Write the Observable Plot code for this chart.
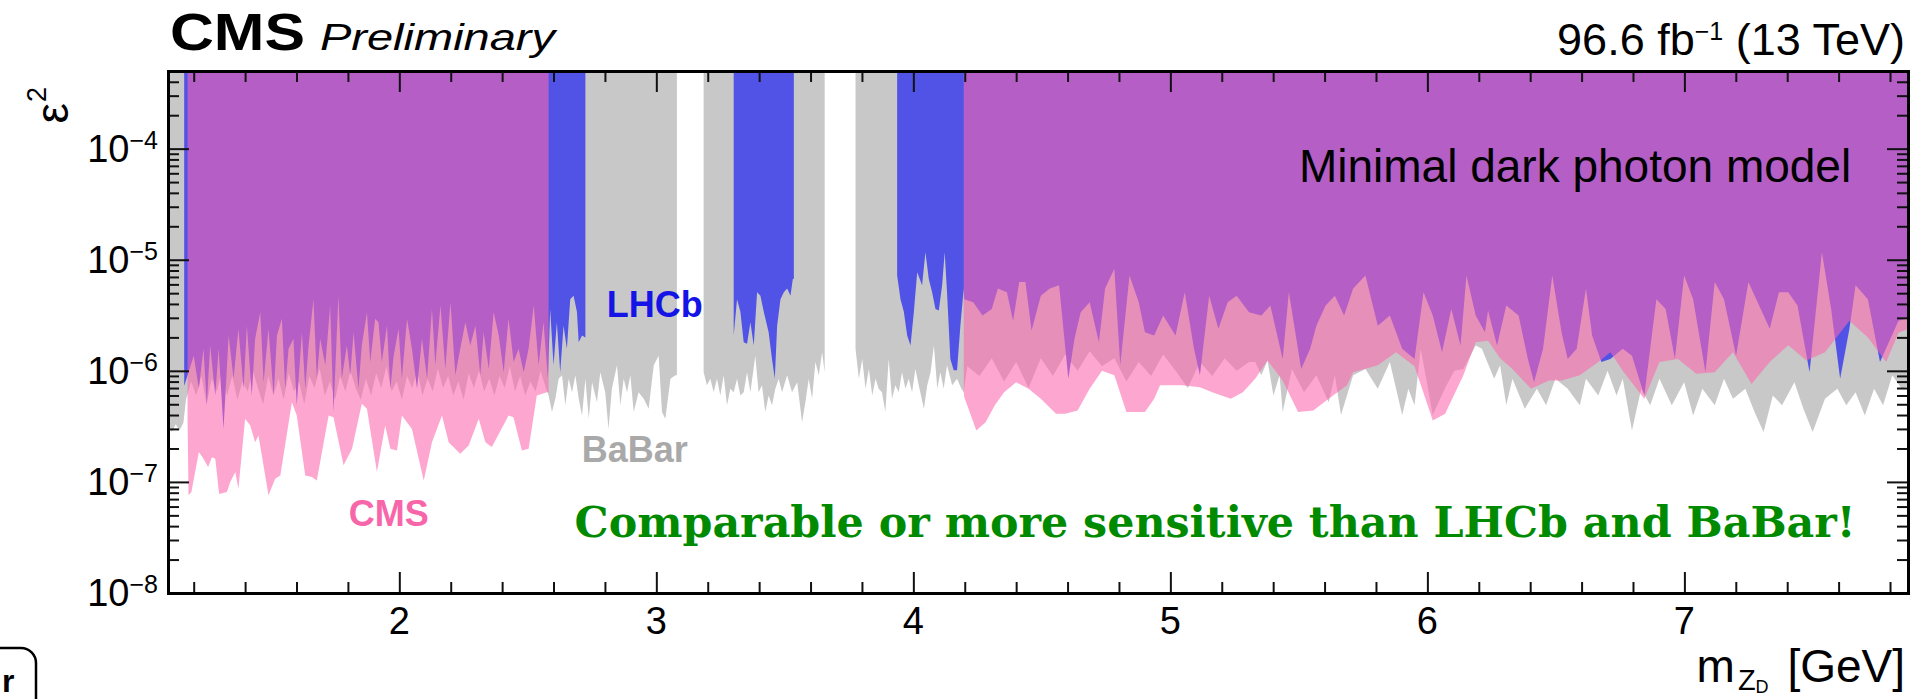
<!DOCTYPE html>
<html><head><meta charset="utf-8">
<script src="https://cdn.jsdelivr.net/npm/d3@7"></script>
<script src="https://cdn.jsdelivr.net/npm/@observablehq/plot@0.6"></script>
<style>html,body{margin:0;padding:0;background:#fff}svg{display:block}</style>
</head><body><div id="chart"></div>
<script>
// ---------- axes ----------
const xDomain = [1.1, 7.87];
const yDomain = [1e-8, 5e-4];
const xMajorTicks = [2, 3, 4, 5, 6, 7];
const xTickLabels = ["2", "3", "4", "5", "6", "7"];
const xMinorTicks = [1.2,1.4,1.6,1.8,2.2,2.4,2.6,2.8,3.2,3.4,3.6,3.8,4.2,4.4,4.6,4.8,5.2,5.4,5.6,5.8,6.2,6.4,6.6,6.8,7.2,7.4,7.6,7.8];
const yMajorTicks = [1e-8, 1e-7, 1e-6, 1e-5, 1e-4];
const yTickExponents = ["\u22128", "\u22127", "\u22126", "\u22125", "\u22124"];
const yMinorTicks = [2e-8,3e-8,4e-8,5e-8,6e-8,7e-8,8e-8,9e-8,2e-7,3e-7,4e-7,5e-7,6e-7,7e-7,8e-7,9e-7,2e-6,3e-6,4e-6,5e-6,6e-6,7e-6,8e-6,9e-6,2e-5,3e-5,4e-5,5e-5,6e-5,7e-5,8e-5,9e-5,2e-4,3e-4,4e-4];

// ---------- BaBar limit (excluded above) ----------
const babarA = [[1.100,3.5e-7],[1.115,2.8e-7],[1.130,3.3e-7],[1.145,2.9e-7],[1.160,3.4e-7],
[1.17,5.5e-7],[1.19,8e-7],[1.21,6e-7],[1.23,9e-7],[1.25,5e-7],[1.27,8.5e-7],[1.29,6.5e-7],[1.31,1.0e-6],[1.33,6e-7],[1.35,9e-7],[1.37,5.5e-7],[1.39,8e-7],[1.41,6.5e-7],[1.43,1.0e-6],[1.45,7e-7],[1.47,5e-7],[1.49,9e-7],[1.51,6e-7],[1.53,8.5e-7],[1.55,5.5e-7],[1.57,9.5e-7],[1.59,6.5e-7],[1.61,8e-7],[1.63,5e-7],[1.65,9e-7],[1.67,7e-7],[1.69,1.05e-6],[1.71,6e-7],[1.73,8e-7],[1.75,5.5e-7],[1.77,9e-7],[1.79,6.5e-7],[1.81,1.0e-6],[1.83,7e-7],[1.85,5.5e-7],[1.87,8.5e-7],[1.89,6e-7],[1.91,9.5e-7],[1.93,7e-7],[1.95,1.1e-6],[1.97,6.5e-7],[1.99,8e-7],[2.01,5.5e-7],[2.03,9e-7],[2.05,7e-7],[2.07,1.0e-6],[2.09,6e-7],[2.11,8.5e-7],[2.13,6.5e-7],[2.15,1.05e-6],[2.17,7e-7],[2.19,9e-7],[2.21,6e-7],[2.23,8e-7],[2.25,5.5e-7],[2.27,9.5e-7],[2.29,7e-7],[2.31,1.0e-6],[2.33,6.5e-7],[2.35,8.5e-7],[2.37,6e-7],[2.39,9e-7],[2.41,7e-7],[2.43,1.1e-6],[2.45,6.5e-7],[2.47,9e-7],[2.49,6e-7],[2.51,8e-7],[2.53,6.5e-7],[2.55,1.0e-6],[2.57,7e-7],
[2.581,6.0e-7],[2.594,4.25e-7],[2.607,5.6e-7],[2.620,8.5e-7],[2.633,9.1e-7],[2.646,4.9e-7],[2.659,8.5e-7],[2.672,6.4e-7],[2.685,9.1e-7],[2.698,5.6e-7],[2.711,3.96e-7],[2.724,8.5e-7],[2.737,3.7e-7],[2.750,7.9e-7],[2.769,5.2e-7],[2.782,9.7e-7],[2.801,6.4e-7],[2.814,3.0e-7],[2.827,6.9e-7],[2.847,1.12e-6],[2.860,4.9e-7],[2.873,8.5e-7],[2.886,6.4e-7],[2.899,9.1e-7],[2.912,4.25e-7],[2.931,6.4e-7],[2.951,5.6e-7],[2.970,4.55e-7],[2.990,1.12e-6],[3.009,1.37e-6],[3.022,4.25e-7],[3.035,3.7e-7],[3.055,8.5e-7],[3.074,9.1e-7],[3.080,9.1e-7]];
const babarB = [[3.184,9.7e-7],[3.197,7.4e-7],[3.210,8.5e-7],[3.223,6.4e-7],[3.236,8.5e-7],[3.249,6.0e-7],[3.262,9.1e-7],[3.275,4.9e-7],[3.288,6.9e-7],[3.301,6.4e-7],[3.314,8.5e-7],[3.327,6.0e-7],[3.340,6.4e-7],[3.353,9.7e-7],[3.366,6.4e-7],[3.385,1.37e-6],[3.398,6.4e-7],[3.411,7.4e-7],[3.424,4.25e-7],[3.437,6.0e-7],[3.450,4.9e-7],[3.463,6.9e-7],[3.476,8.5e-7],[3.489,6.4e-7],[3.509,9.1e-7],[3.528,6.4e-7],[3.548,7.9e-7],[3.567,3.45e-7],[3.580,5.2e-7],[3.593,8.5e-7],[3.606,5.6e-7],[3.619,1.2e-6],[3.632,9.1e-7],[3.645,1.47e-6],[3.655,9.7e-7]];
const babarC = [[3.775,1.58e-6],[3.788,8.5e-7],[3.801,1.28e-6],[3.814,6.9e-7],[3.827,1.04e-6],[3.840,6.0e-7],[3.853,8.5e-7],[3.865,6.9e-7],[3.878,6.4e-7],[3.891,4.25e-7],[3.904,1.28e-6],[3.917,5.6e-7],[3.930,7.4e-7],[3.943,6.4e-7],[3.956,9.7e-7],[3.969,6.9e-7],[3.982,8.5e-7],[3.995,6.4e-7],[4.008,1.04e-6],[4.021,7.4e-7],[4.041,4.55e-7],[4.054,7.4e-7],[4.067,9.7e-7],[4.080,1.69e-6],[4.093,6.9e-7],[4.105,9.7e-7],[4.118,6.9e-7],[4.131,1.12e-6],[4.151,7.4e-7],[4.170,8.5e-7],[4.187,6.9e-7],[4.196,6.4e-7],
[4.21,1.1e-6],[4.257,9e-7],[4.305,1.3e-6],[4.353,8e-7],[4.40,1.2e-6],[4.448,7e-7],[4.496,1.3e-6],[4.543,9e-7],[4.591,1.4e-6],[4.639,1.0e-6],[4.686,1.5e-6],[4.734,1.1e-6],[4.782,1.3e-6],[4.829,8e-7],[4.877,1.2e-6],[4.925,9e-7],[4.972,1.4e-6],[5.02,1.0e-6],[5.068,7e-7],[5.115,1.2e-6],[5.163,9e-7],[5.211,1.3e-6],[5.258,1.0e-6],[5.306,1.2e-6],[5.33,1.2e-6],
[5.354,9.1e-7],[5.378,1.24e-6],[5.401,6.0e-7],[5.425,9.1e-7],[5.437,4.25e-7],[5.473,1.04e-6],[5.52,6.4e-7],[5.568,9.1e-7],[5.616,5.2e-7],[5.640,9.1e-7],[5.664,4.0e-7],[5.711,9.1e-7],[5.759,1.04e-6],[5.807,6.9e-7],[5.854,1.2e-6],[5.902,4.0e-7],[5.926,6.9e-7],[5.95,4.9e-7],[5.974,1.58e-6],[6.021,4.0e-7],[6.069,7e-7],[6.105,1.0e-6],[6.14,1.04e-6],[6.188,1.69e-6],[6.212,1.58e-6],[6.26,8.5e-7],[6.283,1.12e-6],[6.307,4.9e-7],[6.331,8.5e-7],[6.379,4.55e-7],[6.426,6.9e-7],[6.462,4.9e-7],[6.498,8.5e-7],[6.546,6.9e-7],[6.593,4.9e-7],[6.617,8.5e-7],[6.665,6.0e-7],[6.701,1.0e-6],[6.736,6.0e-7],[6.76,8.5e-7],[6.796,2.9e-7],[6.832,6.9e-7],[6.867,4.9e-7],[6.903,8.5e-7],[6.951,4.9e-7],[6.999,7.9e-7],[7.034,3.96e-7],[7.07,6.9e-7],[7.118,4.9e-7],[7.154,8.5e-7],[7.189,5.6e-7],[7.237,6.9e-7],[7.273,4.25e-7],[7.308,2.81e-7],[7.344,6.0e-7],[7.38,4.9e-7],[7.428,7.9e-7],[7.463,4.55e-7],[7.499,2.81e-7],[7.547,5.6e-7],[7.595,6.9e-7],[7.63,4.9e-7],[7.666,6.4e-7],[7.702,3.96e-7],[7.738,6.9e-7],[7.773,4.9e-7],[7.809,9.1e-7],[7.845,6.9e-7],[7.876,7.4e-7]];

// ---------- LHCb limit (excluded above) ----------
const lhcbA = [[1.163,7.3e-7],[1.180,9.7e-7],[1.200,1.37e-6],[1.220,6.9e-7],[1.238,1.58e-6],[1.251,4.9e-7],[1.264,1.69e-6],[1.284,6.0e-7],[1.297,1.58e-6],[1.316,3.0e-7],[1.336,2.08e-6],[1.355,8.5e-7],[1.374,2.39e-6],[1.394,6.9e-7],[1.407,2.55e-6],[1.426,6.0e-7],[1.439,1.94e-6],[1.459,3.37e-6],[1.472,7.9e-7],[1.491,2.39e-6],[1.511,6.0e-7],[1.524,2.08e-6],[1.543,2.94e-6],[1.556,6.9e-7],[1.569,1.58e-6],[1.588,1.94e-6],[1.601,4.9e-7],[1.621,2.23e-6],[1.634,6.9e-7],[1.647,1.69e-6],[1.666,4.4e-6],[1.679,8.5e-7],[1.692,1.94e-6],[1.712,1.12e-6],[1.731,3.87e-6],[1.744,4.25e-7],[1.763,4.75e-6],[1.776,8.5e-7],[1.796,1.69e-6],[1.809,9.1e-7],[1.822,2.23e-6],[1.841,6.9e-7],[1.854,1.69e-6],[1.874,3.37e-6],[1.887,1.2e-6],[1.906,2.94e-6],[1.919,2.74e-6],[1.932,1.2e-6],[1.952,2.55e-6],[1.965,6.9e-7],[1.978,1.37e-6],[1.997,2.39e-6],[2.010,8.5e-7],[2.030,2.94e-6],[2.049,1.58e-6],[2.069,6.9e-7],[2.088,1.94e-6],[2.108,8.5e-7],[2.127,3.6e-6],[2.140,1.12e-6],[2.160,3.87e-6],[2.179,1.04e-6],[2.199,4.15e-6],[2.218,9.1e-7],[2.237,1.58e-6],[2.257,2.74e-6],[2.276,1.69e-6],[2.296,2.55e-6],[2.315,9.1e-7],[2.328,2.23e-6],[2.348,1.04e-6],[2.367,3.37e-6],[2.387,2.08e-6],[2.406,9.7e-7],[2.425,2.94e-6],[2.445,1.2e-6],[2.464,1.58e-6],[2.484,9.7e-7],[2.503,1.58e-6],[2.523,3.87e-6],[2.542,1.12e-6],[2.561,2.74e-6],[2.578,8.5e-7],
[2.587,3.6e-6],[2.600,1.12e-6],[2.613,2.74e-6],[2.626,9.7e-7],[2.639,2.55e-6],[2.652,1.58e-6],[2.665,4.4e-6],[2.678,4.75e-6],[2.691,3.4e-6],[2.698,1.81e-6],[2.711,2.08e-6],[2.724,2.0e-6]];
const lhcbB = [[3.301,2.08e-6],[3.314,4.4e-6],[3.327,3.4e-6],[3.340,1.81e-6],[3.353,1.75e-6],[3.366,2.74e-6],[3.379,1.69e-6],[3.392,5.1e-6],[3.405,4.75e-6],[3.418,3.4e-6],[3.437,2.23e-6],[3.450,1.28e-6],[3.461,8.5e-7],[3.470,2.55e-6],[3.483,4.4e-6],[3.496,5.1e-6],[3.509,5.5e-6],[3.522,4.75e-6],[3.531,6.7e-6],[3.535,6.7e-6]];
const lhcbC = [[3.937,7.2e-6],[3.950,4.4e-6],[3.963,3.4e-6],[3.976,2.08e-6],[3.989,1.69e-6],[4.002,3.4e-6],[4.015,7.7e-6],[4.034,5.9e-6],[4.047,1.17e-5],[4.060,6.7e-6],[4.073,5.1e-6],[4.086,3.6e-6],[4.099,3.5e-6],[4.112,5.9e-6],[4.122,1.17e-5],[4.131,5.1e-6],[4.144,1.28e-6],[4.157,1.01e-6],[4.170,1.01e-6],[4.183,2.55e-6],[4.196,5.5e-6],
[4.198,4.4e-6],[4.233,4.15e-6],[4.269,3.14e-6],[4.305,3.6e-6],[4.329,5.5e-6],[4.364,5.1e-6],[4.388,2.83e-6],[4.412,6.3e-6],[4.436,6.3e-6],[4.460,2.31e-6],[4.496,4.75e-6],[4.531,5.5e-6],[4.567,5.9e-6],[4.603,8.5e-7],[4.627,1.94e-6],[4.651,3.37e-6],[4.686,4.15e-6],[4.722,1.81e-6],[4.746,5.5e-6],[4.782,8.3e-6],[4.805,1.12e-6],[4.841,7.2e-6],[4.877,4.15e-6],[4.901,2.23e-6],[4.937,2.08e-6],[4.972,3.14e-6],[5.020,2.08e-6],[5.056,5.1e-6],[5.092,1.58e-6],[5.115,9.1e-7],[5.151,4.75e-6],[5.187,2.39e-6],[5.223,4.15e-6],[5.258,4.75e-6],[5.306,3.37e-6],[5.354,3.14e-6],[5.389,3.87e-6],[5.437,1.28e-6],[5.461,5.1e-6],[5.509,1.04e-6],[5.544,1.58e-6],[5.568,2.55e-6],[5.604,3.87e-6],[5.640,4.75e-6],[5.676,3.14e-6],[5.711,5.5e-6],[5.759,7.2e-6],[5.807,2.55e-6],[5.854,3.14e-6],[5.902,1.58e-6],[5.950,1.28e-6],[5.985,5.1e-6],[6.021,3.14e-6],[6.057,1.47e-6],[6.093,3.6e-6],[6.129,1.69e-6],[6.152,7.2e-6],[6.188,3.14e-6],[6.224,2.23e-6],[6.236,3.5e-6],[6.271,1.69e-6],[6.307,3.87e-6],[6.355,3.14e-6],[6.391,1.28e-6],[6.415,7.9e-7],[6.450,1.58e-6],[6.486,7.2e-6],[6.522,2.23e-6],[6.546,1.28e-6],[6.581,1.58e-6],[6.617,5.5e-6],[6.641,2.08e-6],[6.677,1.2e-6],[6.712,1.28e-6],[6.760,1.58e-6],[6.796,1.37e-6],[6.844,6.0e-7],[6.891,4.4e-6],[6.927,3.6e-6],[6.963,1.28e-6],[6.999,7.2e-6],[7.034,4.4e-6],[7.082,9.7e-7],[7.118,6.3e-6],[7.154,4.4e-6],[7.201,1.37e-6],[7.249,6.3e-6],[7.285,4.15e-6],[7.332,2.39e-6],[7.368,5.1e-6],[7.404,5.1e-6],[7.440,3.87e-6],[7.487,9.7e-7],[7.535,1.17e-5],[7.571,3.6e-6],[7.606,8.5e-7],[7.642,2.39e-6],[7.666,5.9e-6],[7.714,4.4e-6],[7.761,1.2e-6],[7.833,2.83e-6],[7.876,3.0e-6]];

// ---------- CMS limit (excluded above) ----------
const cmsA = [[1.176,3.7e-7],[1.180,7.6e-8],[1.191,8.1e-8],[1.220,1.86e-7],[1.238,1.62e-7],[1.256,1.36e-7],[1.271,1.67e-7],[1.284,1.62e-7],[1.299,7.8e-8],[1.329,8.1e-8],[1.342,1.0e-7],[1.362,1.23e-7],[1.374,8.7e-8],[1.400,3.7e-7],[1.420,3.22e-7],[1.439,2.28e-7],[1.452,2.62e-7],[1.491,7.6e-8],[1.517,1.07e-7],[1.537,1.14e-7],[1.582,5.2e-7],[1.601,3.96e-7],[1.634,1.14e-7],[1.660,1.11e-7],[1.679,1.03e-7],[1.699,1.86e-7],[1.725,3.96e-7],[1.744,3.83e-7],[1.783,1.41e-7],[1.816,1.99e-7],[1.854,5.05e-7],[1.874,4.55e-7],[1.913,1.23e-7],[1.945,3.22e-7],[1.965,1.99e-7],[1.991,1.92e-7],[2.010,3.96e-7],[2.049,3.0e-7],[2.095,1.03e-7],[2.127,2.28e-7],[2.166,3.96e-7],[2.192,2.28e-7],[2.237,1.79e-7],[2.270,2.13e-7],[2.309,3.7e-7],[2.335,2.28e-7],[2.360,2.06e-7],[2.425,3.96e-7],[2.444,3.83e-7],[2.477,1.92e-7],[2.503,1.99e-7],[2.535,6.0e-7],[2.574,6.4e-7],[2.581,6.4e-7]];
const cmsB = [[4.196,6.4e-7],[4.198,5.8e-7],[4.245,2.9e-7],[4.281,3.45e-7],[4.317,4.9e-7],[4.353,6.4e-7],[4.400,7.9e-7],[4.448,6.9e-7],[4.496,5.6e-7],[4.555,4.1e-7],[4.591,4.1e-7],[4.639,4.4e-7],[4.686,6.9e-7],[4.734,1.0e-6],[4.782,9.1e-7],[4.829,4.25e-7],[4.901,4.25e-7],[4.937,5.6e-7],[4.960,7.4e-7],[5.044,7.4e-7],[5.115,7.1e-7],[5.163,6.4e-7],[5.235,5.6e-7],[5.282,6.4e-7],[5.330,8.5e-7],[5.378,1.24e-6],[5.437,8.2e-7],[5.497,4.25e-7],[5.556,4.4e-7],[5.616,5.6e-7],[5.687,7.4e-7],[5.711,9.7e-7],[5.807,1.12e-6],[5.878,1.47e-6],[5.950,1.1e-6],[6.021,3.57e-7],[6.069,4.1e-7],[6.140,9.1e-7],[6.188,1.81e-6],[6.236,1.87e-6],[6.283,1.3e-6],[6.331,1.04e-6],[6.403,6.9e-7],[6.474,8.2e-7],[6.522,8.2e-7],[6.593,9.1e-7],[6.665,1.2e-6],[6.712,1.47e-6],[6.760,1.0e-6],[6.844,5.6e-7],[6.903,1.2e-6],[6.975,1.28e-6],[7.046,9.4e-7],[7.118,9.7e-7],[7.189,1.47e-6],[7.261,7.6e-7],[7.332,1.2e-6],[7.404,1.7e-6],[7.475,1.24e-6],[7.547,1.47e-6],[7.642,2.83e-6],[7.714,2.0e-6],[7.785,1.2e-6],[7.833,2.2e-6],[7.876,2.4e-6]];

// ---------- annotations (data coordinates) ----------
const labelLHCb = {text: "LHCb", x: 2.807, y: 3.06e-6};
const labelBaBar = {text: "BaBar", x: 2.710, y: 1.52e-7};
const labelCMS = {text: "CMS", x: 1.803, y: 4.04e-8};
const labelModel = {text: "Minimal dark photon model", x: 7.649, y: 5.0e-5};
const labelClaim = {text: "Comparable or more sensitive than LHCb and BaBar!", x: 2.682, y: 3.2e-8};

// ---------- styles ----------
const C = {babar: "#c8c8c8", lhcb: "#5053e6", cms: "#fc66ae", cmsOpacity: 0.583};
const W = 1914, H = 699, mL = 168, mR = 6, mT = 71, mB = 106;
const fw = W - mL - mR, fh = H - mT - mB;
const majorLen = 21, minorLen = 11;

const area = (data, fill, extra = {}) => Plot.areaY(data, {x: d => d[0], y1: d => d[1], y2: () => yDomain[1], fill, ...extra});
const tickStyle = {stroke: "#111", strokeWidth: 2};

const plot = Plot.plot({
  width: W, height: H,
  marginLeft: mL, marginRight: mR, marginTop: mT, marginBottom: mB,
  x: {domain: xDomain, axis: null},
  y: {type: "log", domain: yDomain, axis: null},
  style: {background: "#fff", fontFamily: "'Liberation Sans', Arial, sans-serif", overflow: "visible"},
  marks: [
    area(babarA, C.babar), area(babarB, C.babar), area(babarC, C.babar),
    area(lhcbA, C.lhcb), area(lhcbB, C.lhcb), area(lhcbC, C.lhcb),
    area(cmsA, C.cms, {fillOpacity: C.cmsOpacity}), area(cmsB, C.cms, {fillOpacity: C.cmsOpacity}),
    Plot.tickX(xMajorTicks, {x: d => d, insetTop: fh - majorLen, ...tickStyle}),
    Plot.tickX(xMinorTicks, {x: d => d, insetTop: fh - minorLen, ...tickStyle}),
    Plot.tickX(xMajorTicks, {x: d => d, insetBottom: fh - majorLen, ...tickStyle}),
    Plot.tickX(xMinorTicks, {x: d => d, insetBottom: fh - minorLen, ...tickStyle}),
    Plot.tickY(yMajorTicks, {y: d => d, insetRight: fw - majorLen, ...tickStyle}),
    Plot.tickY(yMinorTicks, {y: d => d, insetRight: fw - minorLen, ...tickStyle}),
    Plot.tickY(yMajorTicks, {y: d => d, insetLeft: fw - majorLen, ...tickStyle}),
    Plot.tickY(yMinorTicks, {y: d => d, insetLeft: fw - minorLen, ...tickStyle}),
    Plot.frame({stroke: "#000", strokeWidth: 3})
  ]
});
document.getElementById("chart").appendChild(plot);

const X = v => plot.scale("x").apply(v);
const Y = v => plot.scale("y").apply(v);
const svg = d3.select(plot);
const F = "'Liberation Sans', Arial, Helvetica, sans-serif";
const txt = (x, y, anchor, size) => svg.append("text").attr("x", x).attr("y", y).attr("text-anchor", anchor)
  .attr("font-family", F).attr("font-size", size).attr("fill", "#000");

// x tick labels
xMajorTicks.forEach((t, i) => txt(X(t), H - mB + 41, "middle", 38).text(xTickLabels[i]));
// y tick labels
yMajorTicks.forEach((t, i) => {
  const tx = txt(mL - 10, Y(t) + 13, "end", 38);
  tx.append("tspan").text("10");
  tx.append("tspan").attr("font-size", 25).attr("dy", -13).text(yTickExponents[i]);
});
// header
txt(170, 50, "start", 51).attr("font-weight", "bold").attr("textLength", 135)
  .attr("lengthAdjust", "spacingAndGlyphs").text("CMS");
txt(320, 50, "start", 36).attr("font-style", "italic").attr("textLength", 235)
  .attr("lengthAdjust", "spacingAndGlyphs").text("Preliminary");
{
  const t = txt(1905, 55, "end", 45);
  t.append("tspan").text("96.6 fb");
  t.append("tspan").attr("font-size", 25).attr("dy", -15).text("\u22121");
  t.append("tspan").attr("dy", 15).text(" (13 TeV)");
}
// axis titles
{
  const t = svg.append("text").attr("transform", "translate(68,87) rotate(-90)").attr("text-anchor", "end")
    .attr("font-family", F).attr("font-size", 46).attr("fill", "#000");
  t.append("tspan").text("\u03b5");
  t.append("tspan").attr("font-size", 27).attr("dy", -22).attr("dx", 1).text("2");
}
{
  const t = txt(1905, 682, "end", 46);
  t.append("tspan").text("m");
  t.append("tspan").attr("font-size", 29).attr("dy", 8).attr("dx", 3).text("Z");
  t.append("tspan").attr("font-size", 18).attr("dy", 3).text("D");
  t.append("tspan").attr("dy", -11).attr("dx", 6).text(" [GeV]");
}
// in-plot labels
const lbl = (o, opts) => {
  const t = svg.append("text").attr("x", X(o.x)).attr("y", Y(o.y)).attr("font-family", opts.family || F)
    .attr("font-size", opts.size).attr("font-weight", opts.weight || "normal").attr("fill", opts.fill)
    .attr("text-anchor", opts.anchor || "start").text(o.text);
  if (opts.length) t.attr("textLength", opts.length).attr("lengthAdjust", "spacingAndGlyphs");
  return t;
};
lbl(labelLHCb, {size: 36, weight: "bold", fill: "#1414e6"});
lbl(labelBaBar, {size: 36, weight: "bold", fill: "#a9a9a9"});
lbl(labelCMS, {size: 36, weight: "bold", fill: "#f866aa"});
lbl(labelModel, {size: 46, fill: "#000", anchor: "end"});
lbl(labelClaim, {size: 42, weight: "bold", fill: "#008a00", family: "'DejaVu Serif', serif", length: 1281});

// slide artefact at bottom-left corner
svg.append("rect").attr("x", -40).attr("y", 648).attr("width", 76).attr("height", 90).attr("rx", 15)
  .attr("fill", "none").attr("stroke", "#000").attr("stroke-width", 2.5);
txt(2, 692, "start", 32).attr("font-weight", "bold").text("r");
</script>
</body></html>
